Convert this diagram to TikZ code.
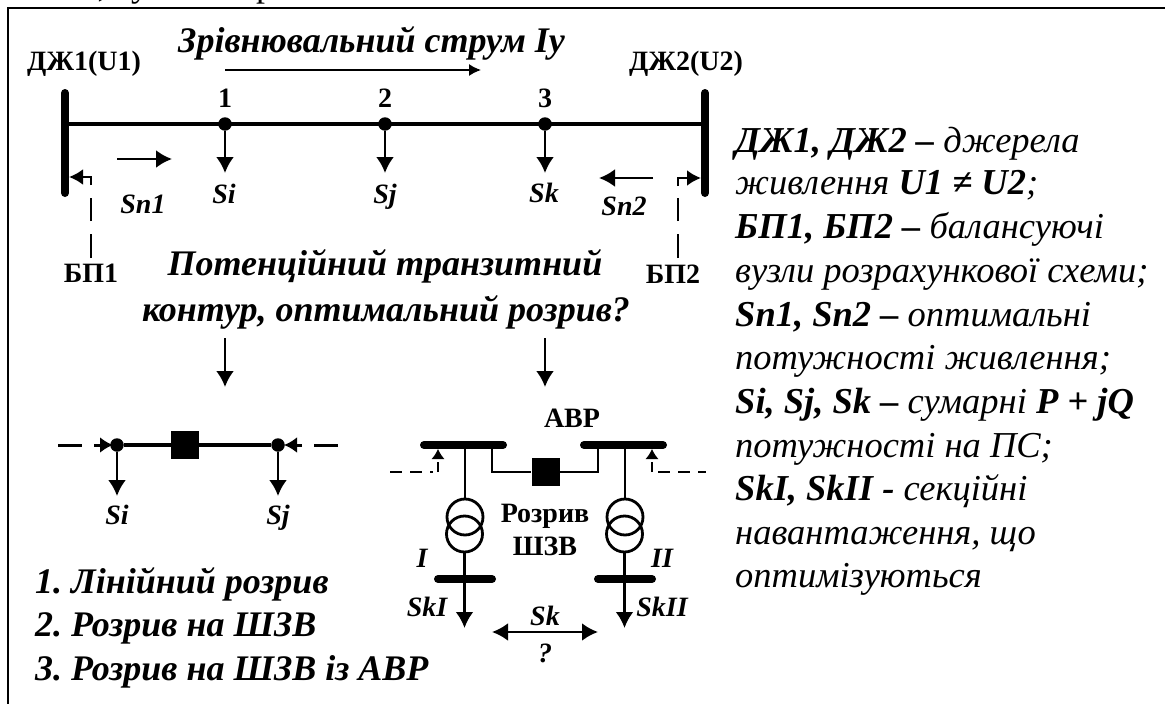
\documentclass[tikz,border=0pt]{standalone}
\usepackage{fontspec}
\setmainfont{Liberation Serif}
\usetikzlibrary{arrows.meta}
\tikzset{
  lbl/.style={inner sep=0pt,font=\fontsize{28}{32}\selectfont\bfseries\frenchspacing},
  ilbl/.style={inner sep=0pt,font=\fontsize{28}{32}\selectfont\bfseries\itshape\frenchspacing},
  big/.style={inner sep=0pt,font=\fontsize{36}{43}\selectfont\bfseries\itshape\frenchspacing},
  side/.style={anchor=base west,inner sep=0pt,font=\fontsize{36.5}{43}\selectfont\itshape\frenchspacing},
  dot/.style={circle,fill=black,inner sep=0pt,minimum size=13.5pt},
  brk/.style={rectangle,fill=black,inner sep=0pt,minimum size=28pt},
  trf/.style={circle,draw=black,line width=2.8pt,inner sep=0pt,minimum size=36pt},
  bus/.style={line width=8pt,line cap=round},
  line/.style={line width=4.5pt},
  wire/.style={line width=2.8pt},
  ar/.style={line width=2.6pt,-{Latex[length=16pt,width=18pt]}},
  dsh/.style={line width=2.6pt,dash pattern=on 24pt off 13pt},
}
\begin{document}
\begin{tikzpicture}[x=1pt,y=-1pt]
\useasboundingbox (0,0) rectangle (1165,704);
\fill[white] (0,0) rectangle (1165,704);
\begin{scope}
\clip (0,0) rectangle (1165,6);
\node[anchor=base,inner sep=0pt,font=\fontsize{36}{43}\selectfont] (f1) at (102,-3) {,};
\node[anchor=base,inner sep=0pt,font=\fontsize{36}{43}\selectfont] (f2) at (140,-3) {у};
\node[anchor=base,inner sep=0pt,font=\fontsize{36}{43}\selectfont] (f3) at (265,-3) {р};
\end{scope}
\draw[line width=2pt] (8,704) -- (8,8) -- (1165,8);
\node[big,anchor=base west] (title) at (178,52) {Зрівнювальний струм Іу};
\coordinate (ia) at (225,70); \coordinate (ib) at (481,70);
\draw[line width=1.5pt,-{Latex[length=12pt,width=12pt]}] (ia) -- (ib);
\node[lbl,anchor=base] (dj1) at (84,70) {ДЖ1(U1)};
\node[lbl,anchor=base] (dj2) at (686,70) {ДЖ2(U2)};
% main line
\coordinate (b1t) at (65,93); \coordinate (b1b) at (65,193);
\coordinate (b2t) at (705,93); \coordinate (b2b) at (705,193);
\draw[bus] (b1t) -- (b1b);
\draw[bus] (b2t) -- (b2b);
\coordinate (m1) at (65,124); \coordinate (m2) at (705,124);
\draw[line] (m1) -- (m2);
\node[dot] (n1) at (225,124) {};
\node[dot] (n2) at (385,124) {};
\node[dot] (n3) at (545,124) {};
\node[lbl,anchor=base] (t1) at (225,107) {1};
\node[lbl,anchor=base] (t2) at (385,107) {2};
\node[lbl,anchor=base] (t3) at (545,107) {3};
\coordinate (s1) at (225,173); \coordinate (s2) at (385,173); \coordinate (s3) at (545,173);
\draw[ar] (n1) -- (s1);
\draw[ar] (n2) -- (s2);
\draw[ar] (n3) -- (s3);
\node[ilbl,anchor=base] (si) at (224,203) {Si};
\node[ilbl,anchor=base] (sj) at (385,203) {Sj};
\node[ilbl,anchor=base] (sk) at (544,202) {Sk};
\node[ilbl,anchor=base] (sn1) at (143,213) {Sn1};
\node[ilbl,anchor=base] (sn2) at (624,215) {Sn2};
\coordinate (a1a) at (117,159); \coordinate (a1b) at (172,159);
\draw[ar] (a1a) -- (a1b);
\coordinate (a2a) at (653,178); \coordinate (a2b) at (599,178);
\draw[ar] (a2a) -- (a2b);
% balancing
\node[lbl,anchor=base] (bp1) at (91,282) {БП1};
\node[lbl,anchor=base] (bp2) at (673,283) {БП2};
\coordinate (d1a) at (91,258); \coordinate (d1b) at (91,198); \coordinate (d1m) at (91,185); \coordinate (d1c) at (91,177); \coordinate (d1e) at (69,177);
\draw[dsh] (d1a) -- (d1b);
\draw[line width=2.6pt,-{Latex[length=14pt,width=16pt]}] (d1m) -- (d1c) -- (d1e);
\coordinate (d2a) at (678,258); \coordinate (d2b) at (678,198); \coordinate (d2m) at (678,186); \coordinate (d2c) at (678,178); \coordinate (d2e) at (701,178);
\draw[dsh] (d2a) -- (d2b);
\draw[line width=2.6pt,-{Latex[length=14pt,width=16pt]}] (d2m) -- (d2c) -- (d2e);
% central text
\node[big,anchor=base] (c1) at (385,275) {Потенційний транзитний};
\node[big,anchor=base] (c2) at (386,321) {контур, оптимальний розрив?};
\coordinate (c3) at (225,338); \coordinate (c4) at (225,387);
\coordinate (c5) at (545,338); \coordinate (c6) at (545,387);
\draw[ar] (c3) -- (c4);
\draw[ar] (c5) -- (c6);
% line break
\node[brk] (q1) at (185,445) {};
\node[dot] (l1) at (117,445) {};
\node[dot] (l2) at (278,445) {};
\draw[line] (l1) -- (q1); \draw[line] (q1) -- (l2);
\coordinate (ld1) at (58,445); \coordinate (ld2) at (82,445);
\coordinate (ld3) at (94,445); \coordinate (lt) at (113,445);
\coordinate (rd1) at (338,445); \coordinate (rd2) at (314,445);
\coordinate (rd3) at (302,445); \coordinate (rt) at (284,445);
\draw[line width=3pt] (ld1) -- (ld2);
\draw[line width=3pt,-{Latex[length=13pt,width=16pt]}] (ld3) -- (lt);
\draw[line width=3pt] (rd1) -- (rd2);
\draw[line width=3pt,-{Latex[length=13pt,width=16pt]}] (rd3) -- (rt);
\coordinate (ls1) at (117,496); \coordinate (ls2) at (278,496);
\draw[ar] (l1) -- (ls1);
\draw[ar] (l2) -- (ls2);
\node[ilbl,anchor=base] (si2) at (117,524) {Si};
\node[ilbl,anchor=base] (sj2) at (278,524) {Sj};
% list
\node[big,anchor=base west] (li1) at (35,593) {1. Лінійний розрив};
\node[big,anchor=base west] (li2) at (35,636) {2. Розрив на ШЗВ};
\node[big,anchor=base west] (li3) at (35,680) {3. Розрив на ШЗВ із АВР};
% ABR
\node[lbl,anchor=base] (abr) at (572,427) {АВР};
\coordinate (bl1) at (424,445); \coordinate (bl2) at (503,445);
\coordinate (br1) at (584,445); \coordinate (br2) at (663,445);
\draw[bus] (bl1) -- (bl2);
\draw[bus] (br1) -- (br2);
\node[brk] (q2) at (545.5,472) {};
\coordinate (st1) at (492,445); \coordinate (st2) at (598,445);
\draw[wire] (st1) |- (q2);
\draw[wire] (st2) |- (q2);
\node[trf] (t1a) at (465,517) {};
\node[trf] (t1b) at (464.5,534) {};
\node[trf] (t2a) at (625,517) {};
\node[trf] (t2b) at (624.5,534) {};
\coordinate (tp1) at (465,445); \coordinate (tp2) at (625,445);
\draw[wire] (tp1) -- (t1a);
\draw[wire] (tp2) -- (t2a);
\coordinate (bl3) at (438,579); \coordinate (bl4) at (492,579);
\coordinate (br3) at (598,579); \coordinate (br4) at (652,579);
\draw[bus] (bl3) -- (bl4);
\draw[bus] (br3) -- (br4);
\coordinate (o1) at (464.5,628); \coordinate (o2) at (624.5,628);
\draw[line width=2.8pt,-{Latex[length=16pt,width=18pt]}] (t1b) -- (o1);
\draw[line width=2.8pt,-{Latex[length=16pt,width=18pt]}] (t2b) -- (o2);
\coordinate (sa) at (492,632); \coordinate (sb) at (598,632);
\draw[line width=2.8pt,{Latex[length=16pt,width=18pt]}-{Latex[length=16pt,width=18pt]}] (sa) -- (sb);
\node[ilbl,anchor=base] (skm) at (545,625) {Sk};
\node[ilbl,anchor=base] (qm) at (545,662) {?};
\node[ilbl,anchor=base] (ski) at (427,616) {SkI};
\node[ilbl,anchor=base] (skii) at (662,616) {SkII};
\node[ilbl,anchor=base] (ti) at (422,567) {I};
\node[ilbl,anchor=base] (tii) at (662,567) {II};
\node[lbl,anchor=base] (rz1) at (545,522) {Розрив};
\node[lbl,anchor=base] (rz2) at (545,555) {ШЗВ};
% dashed feeders
\coordinate (f1a) at (390,472); \coordinate (f1b) at (433,472);
\coordinate (f1c) at (438,472); \coordinate (f1d) at (438,462);
\coordinate (f1e) at (438,458); \coordinate (f1f) at (438,449);
\draw[line width=1.8pt,dash pattern=on 12pt off 8pt] (f1a) -- (f1b);
\draw[line width=1.8pt] (f1c) -- (f1d);
\draw[line width=1.2pt,-{Latex[length=10pt,width=13pt]}] (f1e) -- (f1f);
\coordinate (f2a) at (706,472); \coordinate (f2b) at (658,472);
\coordinate (f2c) at (652,472); \coordinate (f2d) at (652,462);
\coordinate (f2e) at (652,458); \coordinate (f2f) at (652,449);
\draw[line width=1.8pt,dash pattern=on 12pt off 8pt] (f2b) -- (f2a);
\draw[line width=1.8pt] (f2c) -- (f2d);
\draw[line width=1.2pt,-{Latex[length=10pt,width=13pt]}] (f2e) -- (f2f);
% side text
\node[side] (r1) at (735,152) {\textbf{ДЖ1, ДЖ2 –} джерела};
\node[side] (r2) at (735,194) {живлення \textbf{U1 ≠ U2};};
\node[side] (r3) at (735,238) {\textbf{БП1, БП2 –} балансуючі};
\node[side] (r4) at (735,282) {вузли розрахункової схеми;};
\node[side] (r5) at (735,326) {\textbf{Sn1, Sn2 –} оптимальні};
\node[side] (r6) at (735,369) {потужності живлення;};
\node[side] (r7) at (735,413) {\textbf{Si, Sj, Sk –} сумарні \textbf{P + jQ}};
\node[side] (r8) at (735,457) {потужності на ПС;};
\node[side] (r9) at (735,500) {\textbf{SkI, SkII -} секційні};
\node[side] (r10) at (735,544) {навантаження, що};
\node[side] (r11) at (735,587) {оптимізуються};
\end{tikzpicture}
\end{document}
